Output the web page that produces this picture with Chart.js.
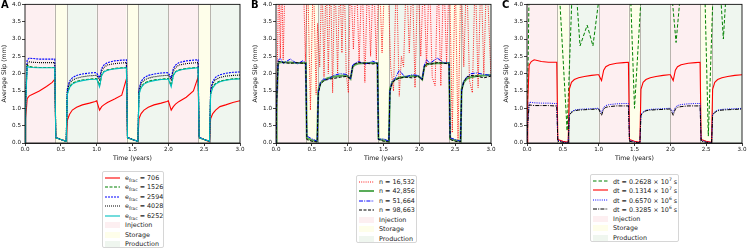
<!DOCTYPE html>
<html>
<head>
<meta charset="utf-8">
<script src="https://cdn.jsdelivr.net/npm/chart.js@4.4.1/dist/chart.umd.min.js"></script>
<style>
  body { margin: 0; width: 748px; height: 251px; overflow: hidden; background: #fff; font-family: "DejaVu Sans", sans-serif; }
  .panel { position: absolute; top: 0; }
  .letter { position: absolute; top: -1px; font: bold 10px "DejaVu Sans", sans-serif; color: #000; }
  .legend { position: absolute; border: 1px solid #d6d6d6; border-radius: 2px; background: #fff; font: 6.4px "DejaVu Sans", sans-serif; color: #222; box-sizing: border-box; padding: 1px 2px 0 2px; }
  .legend .row { height: 9.5px; display: flex; align-items: center; white-space: nowrap; }
  .legend span { color: #222; }
  .legend svg { margin-right: 5px; flex: none; }
  .legend sub { font-size: 4.5px; vertical-align: -1.5px; }
  .legend sup { font-size: 4.5px; vertical-align: 2.5px; }
</style>
</head>
<body>
<div class="panel" style="left:0px"><canvas id="chartA" width="248" height="162"></canvas></div>
<div class="panel" style="left:251px"><canvas id="chartB" width="248" height="162"></canvas></div>
<div class="panel" style="left:502px"><canvas id="chartC" width="246" height="162"></canvas></div>
<div class="letter" style="left:1px">A</div>
<div class="letter" style="left:251px">B</div>
<div class="letter" style="left:502px">C</div>
<div class="legend" id="legA" style="left:102px;top:171px;width:62px;height:77px"></div>
<div class="legend" id="legB" style="left:356px;top:175px;width:61px;height:68px"></div>
<div class="legend" id="legC" style="left:590px;top:174px;width:89px;height:68px"></div>

<script>
// cycle phases (years)
const phaseStart = [0, 0.4167, 0.5833, 1.0, 1.4167, 1.5833, 2.0, 2.4167, 2.5833];
const phaseEnd   = [0.4167, 0.5833, 1.0, 1.4167, 1.5833, 2.0, 2.4167, 2.5833, 3.0];
const phaseKind  = [0, 1, 2, 0, 1, 2, 0, 1, 2];
const phaseNames = ['Injection', 'Storage', 'Production'];
const phaseFill  = ['#fdeff1', '#fefeea', '#eff6ef'];

const xTicks = [0, 0.5, 1.0, 1.5, 2.0, 2.5, 3.0];
const yTicks = [0, 0.5, 1.0, 1.5, 2.0, 2.5, 3.0, 3.5, 4.0];

// shared time samples for the smooth curves
const timeYears = [0, 0.01, 0.03, 0.06, 0.1, 0.2, 0.3, 0.38, 0.415,
  0.43, 0.5, 0.575,
  0.59, 0.62, 0.66, 0.72, 0.8, 0.9, 0.98, 1.0,
  1.04, 1.07, 1.1, 1.15, 1.25, 1.35, 1.415,
  1.43, 1.5, 1.575,
  1.59, 1.62, 1.66, 1.72, 1.8, 1.9, 1.98, 2.0,
  2.04, 2.07, 2.1, 2.15, 2.25, 2.35, 2.415,
  2.43, 2.5, 2.575,
  2.59, 2.62, 2.66, 2.72, 2.8, 2.9, 3.0];

// --- panel A : e_frac ---
const fracLabels = ['706', '1526', '2594', '4028', '6252'];
const slipE706 = [0, 0.7, 1.28, 1.36, 1.4, 1.5, 1.63, 1.75, 1.84,
  0.15, 0.1, 0.05,
  0.65, 0.82, 0.95, 1.03, 1.1, 1.15, 1.2, 1.22,
  0.95, 1.05, 1.1, 1.17, 1.27, 1.38, 1.85,
  0.15, 0.1, 0.05,
  0.7, 0.85, 0.95, 1.03, 1.1, 1.15, 1.2, 1.22,
  0.95, 1.05, 1.12, 1.2, 1.32, 1.5, 1.9,
  0.15, 0.1, 0.03,
  0.7, 0.85, 0.95, 1.05, 1.1, 1.17, 1.22];
const slipE1526 = [0, 1.2, 2.25, 2.21, 2.19, 2.18, 2.18, 2.18, 2.18,
  0.15, 0.1, 0.05,
  1.42, 1.62, 1.72, 1.78, 1.82, 1.84, 1.86, 1.86,
  1.66, 1.96, 2.06, 2.11, 2.15, 2.17, 2.18,
  0.15, 0.1, 0.05,
  1.42, 1.62, 1.72, 1.78, 1.82, 1.84, 1.86, 1.86,
  1.66, 1.96, 2.06, 2.11, 2.15, 2.17, 2.18,
  0.15, 0.1, 0.05,
  1.42, 1.62, 1.72, 1.79, 1.82, 1.85, 1.86];
const slipE2594 = [0, 1.3, 2.4, 2.45, 2.44, 2.42, 2.42, 2.42, 2.42,
  0.17, 0.1, 0.05,
  1.55, 1.78, 1.88, 1.95, 1.99, 2.02, 2.03, 2.02,
  1.88, 2.15, 2.25, 2.32, 2.37, 2.39, 2.4,
  0.17, 0.1, 0.05,
  1.55, 1.78, 1.88, 1.95, 1.99, 2.02, 2.03, 2.02,
  1.88, 2.15, 2.25, 2.32, 2.37, 2.39, 2.4,
  0.17, 0.1, 0.05,
  1.55, 1.78, 1.9, 1.97, 2.01, 2.04, 2.05];
const slipE4028 = [0, 1.25, 2.3, 2.34, 2.33, 2.32, 2.32, 2.32, 2.32,
  0.16, 0.1, 0.05,
  1.5, 1.72, 1.81, 1.87, 1.91, 1.94, 1.95, 1.95,
  1.82, 2.08, 2.18, 2.25, 2.29, 2.31, 2.32,
  0.16, 0.1, 0.05,
  1.5, 1.72, 1.81, 1.87, 1.91, 1.94, 1.95, 1.95,
  1.82, 2.08, 2.18, 2.25, 2.29, 2.31, 2.32,
  0.16, 0.1, 0.05,
  1.5, 1.72, 1.83, 1.89, 1.93, 1.95, 1.96];
const slipE6252 = [0, 1.15, 2.2, 2.19, 2.18, 2.17, 2.17, 2.17, 2.17,
  0.15, 0.1, 0.05,
  1.4, 1.6, 1.7, 1.76, 1.8, 1.83, 1.84, 1.85,
  1.62, 1.95, 2.05, 2.1, 2.14, 2.16, 2.17,
  0.15, 0.1, 0.05,
  1.4, 1.6, 1.7, 1.76, 1.8, 1.83, 1.84, 1.85,
  1.62, 1.95, 2.05, 2.1, 2.14, 2.16, 2.17,
  0.15, 0.1, 0.05,
  1.4, 1.6, 1.7, 1.77, 1.81, 1.84, 1.85];

// --- panel B : mesh size n ---
const meshLabels = ['16,532', '42,856', '51,664', '98,663'];
const timeN16532 = [0, 0.02, 0.04, 0.06, 0.08, 0.1, 0.13, 0.16, 0.2, 0.3, 0.38, 0.41,
  0.44, 0.48, 0.52, 0.56, 0.58, 0.61, 0.64, 0.67, 0.7, 0.73, 0.76, 0.79, 0.82, 0.86, 0.89, 0.92, 0.95, 0.98,
  1.01, 1.04, 1.08, 1.12, 1.16, 1.2, 1.24, 1.28, 1.32, 1.36, 1.4,
  1.44, 1.48, 1.52, 1.56, 1.6, 1.64, 1.68, 1.72, 1.75, 1.78, 1.82, 1.86, 1.9, 1.94, 1.98,
  2.02, 2.06, 2.1, 2.14, 2.18, 2.22, 2.26, 2.3, 2.34, 2.38, 2.42,
  2.46, 2.5, 2.54, 2.58, 2.62, 2.66, 2.7, 2.74, 2.78, 2.82, 2.86, 2.9, 2.94, 3.0];
const slipN16532 = [0, 2.45, 5, 2.45, 5, 2.4, 5, 5, 5, 5, 5, 2.35,
  5, 0.95, 5, 1.4, 3.45, 2.2, 5, 1.9, 5, 2.0, 5, 1.45, 5, 2.0, 5, 2.6, 5, 2.0,
  1.45, 5, 2.7, 5, 2.3, 5, 1.75, 5, 2.5, 5, 2.4,
  5, 2.6, 5, 5, 2.2, 1.5, 5, 1.35, 2.5, 2.2, 5, 2.6, 5, 1.6, 5,
  2.5, 5, 2.2, 5, 1.9, 1.65, 5, 1.65, 5, 2.3, 5,
  0.3, 5, 0.1, 5, 2.2, 5, 1.8, 1.45, 5, 1.6, 5, 2.0, 5, 1.9];
const slipN42856 = [0, 1.2, 2.3, 2.33, 2.33, 2.32, 2.31, 2.31, 2.31,
  0.15, 0.08, 0.05,
  1.5, 1.72, 1.8, 1.87, 1.91, 1.94, 1.95, 1.93,
  1.85, 2.2, 2.26, 2.29, 2.31, 2.31, 2.31,
  0.12, 0.08, 0.05,
  1.55, 1.75, 1.83, 1.88, 1.91, 1.93, 1.93, 1.91,
  1.83, 2.2, 2.26, 2.29, 2.3, 2.31, 2.31,
  0.12, 0.08, 0.05,
  1.55, 1.75, 1.85, 1.9, 1.93, 1.95, 1.96];
const slipN51664 = [0, 1.3, 2.38, 2.45, 2.3, 2.42, 2.28, 2.38, 2.3,
  0.2, 0.12, 0.05,
  1.45, 1.75, 1.85, 1.82, 1.95, 2.0, 1.98, 1.95,
  1.85, 2.25, 2.3, 2.35, 2.28, 2.36, 2.3,
  0.1, 0.12, 0.05,
  1.5, 1.78, 1.85, 2.1, 1.9, 1.97, 1.95, 1.92,
  1.84, 2.25, 2.4, 2.3, 2.45, 2.3, 2.32,
  0.15, 0.1, 0.05,
  1.5, 1.8, 1.9, 2.0, 2.02, 1.98, 1.95];
const slipN98663 = [0, 1.25, 2.35, 2.35, 2.32, 2.3, 2.32, 2.3, 2.3,
  0.1, 0.05, 0.03,
  1.42, 1.7, 1.78, 1.84, 1.86, 1.9, 1.92, 1.9,
  1.86, 2.2, 2.28, 2.32, 2.3, 2.28, 2.3,
  0.1, 0.05, 0.03,
  1.5, 1.72, 1.82, 1.87, 1.9, 1.88, 1.92, 1.9,
  1.82, 2.2, 2.3, 2.27, 2.32, 2.3, 2.28,
  0.1, 0.05, 0.03,
  1.5, 1.75, 1.9, 1.95, 1.93, 1.88, 1.93];

// --- panel C : time step dt ---
const dtMantissa = ['0.2628', '0.1314', '0.6570', '0.3285'];
const dtExponent = ['7', '7', '6', '6'];
const timeDt2628 = [0, 0.03, 0.2, 0.45, 0.56, 0.63, 0.68, 0.74, 0.84, 0.92, 1.0, 1.2,
  1.44, 1.5, 1.6, 1.8, 1.9, 1.95, 2.02, 2.08, 2.14, 2.3,
  2.48, 2.53, 2.6, 2.68, 2.74, 2.78, 2.9, 3.0];
const slipDt2628 = [0, 4.5, 5, 4.4, 0.35, 4.4, 4.6, 2.8, 3.4, 2.8, 4.1, 5,
  4.6, 1.0, 4.5, 5, 4.02, 5, 4.3, 2.9, 4.3, 5,
  4.5, 0.2, 4.6, 5, 3.0, 4.4, 5, 5];
const slipDt1314 = [0, 1.2, 2.25, 2.35, 2.4, 2.35, 2.33, 2.33, 2.33,
  0.1, 0.05, 0.02,
  1.55, 1.75, 1.83, 1.88, 1.92, 1.95, 1.97, 1.97,
  1.8, 2.1, 2.2, 2.26, 2.3, 2.32, 2.33,
  0.1, 0.05, 0.02,
  1.55, 1.75, 1.83, 1.88, 1.92, 1.95, 1.97, 1.97,
  1.8, 2.1, 2.2, 2.26, 2.3, 2.32, 2.33,
  0.1, 0.05, 0.02,
  1.55, 1.75, 1.83, 1.88, 1.92, 1.95, 1.97];
const slipDt6570 = [0, 0.6, 1.18, 1.17, 1.16, 1.15, 1.15, 1.14, 1.14,
  0.08, 0.03, 0.01,
  0.82, 0.9, 0.95, 0.97, 0.98, 0.99, 1.0, 1.0,
  0.88, 1.03, 1.08, 1.11, 1.13, 1.14, 1.14,
  0.08, 0.03, 0.01,
  0.82, 0.9, 0.95, 0.97, 0.98, 0.99, 1.0, 1.0,
  0.88, 1.03, 1.08, 1.11, 1.13, 1.14, 1.14,
  0.08, 0.03, 0.01,
  0.82, 0.9, 0.95, 0.97, 0.98, 0.99, 1.0];
const slipDt3285 = [0, 0.55, 1.1, 1.09, 1.08, 1.08, 1.08, 1.07, 1.07,
  0.05, 0.02, 0.0,
  0.8, 0.88, 0.93, 0.95, 0.96, 0.97, 0.98, 0.98,
  0.8, 0.98, 1.03, 1.05, 1.07, 1.07, 1.07,
  0.05, 0.02, 0.0,
  0.8, 0.88, 0.93, 0.95, 0.96, 0.97, 0.98, 0.98,
  0.8, 0.98, 1.03, 1.05, 1.07, 1.07, 1.07,
  0.05, 0.02, 0.0,
  0.8, 0.88, 0.93, 0.95, 0.96, 0.97, 0.98];

const ink = '#111';
const tickFont = { family: 'DejaVu Sans', size: 5.6 };
const titleFont = { family: 'DejaVu Sans', size: 6.2 };

function line(times, vals, color, dash, width, order) {
  return {
    data: times.map((t, i) => ({ x: t, y: vals[i] })),
    borderColor: color, borderDash: dash, borderWidth: width,
    pointRadius: 0, tension: 0, fill: false, order: order
  };
}

// shaded phases + frame
const phasesPlugin = {
  id: 'phases',
  beforeDatasetsDraw(chart) {
    const { ctx, chartArea: a, scales: { x } } = chart;
    ctx.save();
    phaseStart.forEach((s, i) => {
      const x0 = x.getPixelForValue(s), x1 = x.getPixelForValue(phaseEnd[i]);
      ctx.fillStyle = phaseFill[phaseKind[i]];
      ctx.fillRect(x0, a.top, x1 - x0, a.bottom - a.top);
    });
    ctx.strokeStyle = '#b8b4ae';
    ctx.lineWidth = 1;
    phaseStart.slice(1).forEach(s => {
      const px = Math.round(x.getPixelForValue(s)) + 0.5;
      ctx.beginPath(); ctx.moveTo(px, a.top); ctx.lineTo(px, a.bottom); ctx.stroke();
    });
    ctx.restore();
  },
  afterDraw(chart) {
    const { ctx, chartArea: a } = chart;
    ctx.save();
    ctx.strokeStyle = ink; ctx.lineWidth = 0.9;
    ctx.strokeRect(a.left, a.top, a.right - a.left, a.bottom - a.top);
    ctx.restore();
  }
};

function makeChart(id, datasets, padRight) {
  new Chart(document.getElementById(id), {
    type: 'line',
    data: { datasets: datasets },
    plugins: [phasesPlugin],
    options: {
      responsive: false, animation: false, devicePixelRatio: 1,
      layout: { padding: { top: 4, right: padRight, bottom: 0, left: 0 } },
      plugins: { legend: { display: false }, tooltip: { enabled: false } },
      scales: {
        x: {
          type: 'linear', min: 0, max: 3,
          afterBuildTicks: s => { s.ticks = xTicks.map(v => ({ value: v })); },
          afterFit: s => { s.height = 19; },
          ticks: { color: ink, font: tickFont, padding: 0, maxRotation: 0, callback: v => v.toFixed(1) },
          grid: { drawOnChartArea: false, tickLength: 3, color: ink, lineWidth: 0.8 },
          border: { color: ink, width: 0.9 },
          title: { display: true, text: 'Time (years)', color: ink, font: titleFont, padding: { top: 0, bottom: 0 } }
        },
        y: {
          min: 0, max: 4,
          afterBuildTicks: s => { s.ticks = yTicks.map(v => ({ value: v })); },
          afterFit: s => { s.width = 25; },
          ticks: { color: ink, font: tickFont, padding: 1, callback: v => v.toFixed(1) },
          grid: { drawOnChartArea: false, tickLength: 3, color: ink, lineWidth: 0.8 },
          border: { color: ink, width: 0.9 },
          title: { display: true, text: 'Average Slip (mm)', color: ink, font: titleFont, padding: { top: 1, bottom: 0 } }
        }
      }
    }
  });
}

const dsA = [
  line(timeYears, slipE706, '#ff0000', [], 1.1, 5),
  line(timeYears, slipE1526, '#008000', [3, 1.5], 1.1, 4),
  line(timeYears, slipE2594, '#0000ff', [2, 1], 1.1, 3),
  line(timeYears, slipE4028, '#000000', [1, 1], 1.1, 2),
  line(timeYears, slipE6252, '#00bfbf', [], 1.1, 1)
];
const dsB = [
  line(timeN16532, slipN16532, '#ff0000', [1, 1.2], 0.9, 4),
  line(timeYears, slipN42856, 'rgba(0,128,0,0.65)', [], 2, 3),
  line(timeYears, slipN51664, '#0000ff', [4, 1.2, 1, 1.2], 1, 2),
  line(timeYears, slipN98663, '#000000', [3, 1.5], 1, 1)
];
const dsC = [
  line(timeDt2628, slipDt2628, '#008000', [3.5, 2], 1, 4),
  line(timeYears, slipDt1314, '#ff0000', [], 1.1, 3),
  line(timeYears, slipDt6570, '#0000ff', [1, 1.2], 1, 2),
  line(timeYears, slipDt3285, '#000000', [4, 1.2, 1, 1.2], 1, 1)
];

makeChart('chartA', dsA, 8);
makeChart('chartB', dsB, 8);
makeChart('chartC', dsC, 6);

// html legends
function sample(ds) {
  return '<svg width="15" height="6"><line x1="0" y1="3" x2="15" y2="3" stroke="' + ds.borderColor +
    '" stroke-width="' + ds.borderWidth + '" stroke-dasharray="' + (ds.borderDash.join(' ') || 'none') + '"/></svg>';
}
function patch(fill) {
  return '<svg width="15" height="6"><rect width="15" height="6" fill="' + fill + '"/></svg>';
}
function fillLegend(id, datasets, labels) {
  let html = '';
  datasets.forEach((ds, i) => { html += '<div class="row">' + sample(ds) + '<span>' + labels[i] + '</span></div>'; });
  phaseNames.forEach((n, i) => { html += '<div class="row">' + patch(phaseFill[i]) + '<span>' + n + '</span></div>'; });
  document.getElementById(id).innerHTML = html;
}
fillLegend('legA', dsA, fracLabels.map(v => 'e<sub>frac</sub> = ' + v));
fillLegend('legB', dsB, meshLabels.map(v => 'n = ' + v));
fillLegend('legC', dsC, dtMantissa.map((m, i) => 'dt = ' + m + ' × 10<sup>' + dtExponent[i] + '</sup> s'));
</script>
</body>
</html>
